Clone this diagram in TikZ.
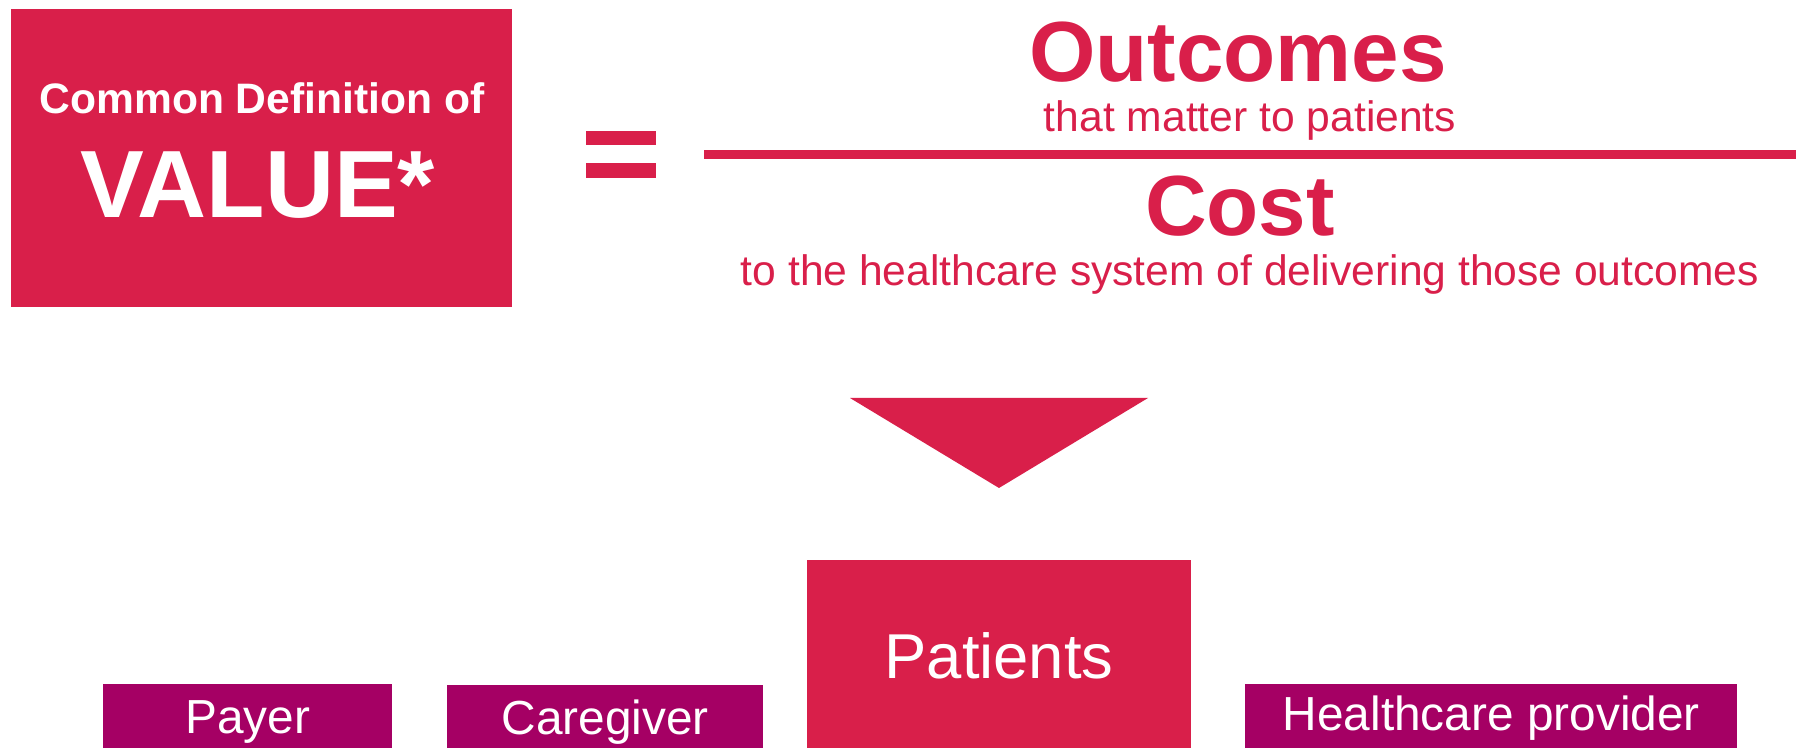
\documentclass[tikz,border=0pt]{standalone}
\usepackage{fontspec}
\setmainfont{Liberation Sans}
\usetikzlibrary{positioning}

\begin{document}
\begin{tikzpicture}[
            x=0.5pt,y=-0.5pt,
            every node/.style={inner sep=0pt,outer sep=0pt}
        ]
            \definecolor{vred}{RGB}{217,31,74}
            \definecolor{vpur}{RGB}{165,0,100}

            \useasboundingbox (0,0) rectangle (1796,748);

            % value box
            \node (def) [fill=vred,anchor=north west,minimum width=250.5pt,minimum height=149pt] at (11,9) {};
            \node (defa) [anchor=base,white,font=\fontsize{21.3}{24}\bfseries\selectfont] at (262,114) {Common Definition of};
            \node (defb) [anchor=base,white,font=\fontsize{47.8}{50}\bfseries\selectfont] at (258,218) {VALUE*};

            % equals sign and fraction bar
            \fill [vred] (586,131) rectangle (656,145);
            \fill [vred] (586,163) rectangle (656,178);
            \fill [vred] (704,150) rectangle (1796,159);

            \begin{scope}[
                every node/.style={anchor=base,text=vred,inner sep=0pt}
            ]
                \node (out)  [font=\fontsize{42.7}{46}\bfseries\selectfont] at (1238,82)  {Outcomes};
                \node (outs) [font=\fontsize{21.3}{24}\selectfont]          at (1250,132) {that matter to patients};
                \node (cost) [font=\fontsize{42.7}{46}\bfseries\selectfont] at (1240,236) {Cost};
                \node (cos)  [font=\fontsize{21.3}{24}\selectfont]          at (1250,286) {to the healthcare system of delivering those outcomes};
            \end{scope}

            % arrow down
            \fill [vred] (850,398) -- (1148,398) -- (999,488) -- cycle;

            \node (pat) [fill=vred,text=white,anchor=north west,minimum width=192pt,minimum height=94pt,
                         text height=25pt,text depth=0pt,font=\fontsize{31.7}{34}\selectfont] at (807,560) {Patients};

            \begin{scope}[
                every node/.style={fill=vpur,text=white,inner sep=0pt,minimum height=32pt,
                                   text height=18pt,text depth=0pt,font=\fontsize{23.9}{26}\selectfont}
            ]
                \node (pay)  [anchor=south west,minimum width=144.5pt] at (103,748) {Payer};
                \node (care) [right=27pt of pay.south east,anchor=south west,minimum width=158pt,minimum height=31.5pt] {Caregiver};
                \node (prov) [right=27pt of pat.south east,anchor=south west,minimum width=246pt,text height=15pt] {Healthcare provider};
            \end{scope}
        \end{tikzpicture}
\end{document}
